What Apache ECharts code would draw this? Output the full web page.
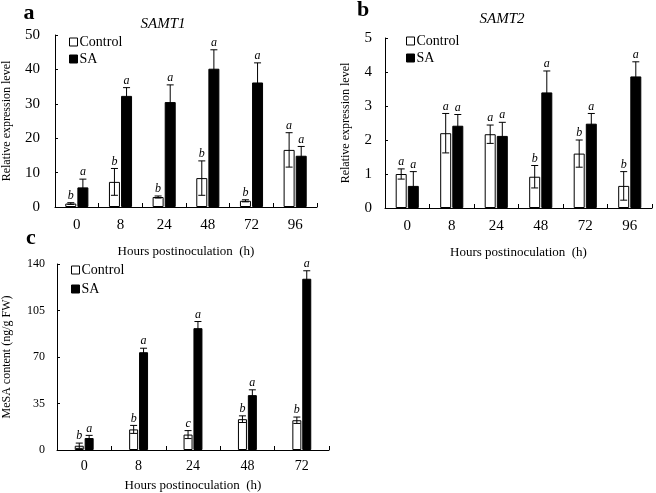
<!DOCTYPE html>
<html><head><meta charset="utf-8">
<script src="https://cdn.jsdelivr.net/npm/echarts@6/dist/echarts.min.js"></script>
<style>html,body{margin:0;padding:0;background:#fff}#c{width:656px;height:493px}</style>
</head><body><div id="c"></div>
<script>
// ---- data ----
const catsAB = ['0', '8', '24', '48', '72', '96'];
const catsC = ['0', '8', '24', '48', '72'];

const aControl = [1.0, 7.3, 2.9, 8.4, 1.8, 16.6];
const aControlErr = [0.25, 3.9, 0.3, 5.0, 0.3, 5.0];
const aSA = [5.7, 32.3, 30.5, 40.2, 36.2, 14.9];
const aSAErr = [2.4, 2.4, 5.0, 5.5, 5.7, 2.7];
const aControlSig = ['b', 'b', 'b', 'b', 'b', 'a'];
const aSASig = ['a', 'a', 'a', 'a', 'a', 'a'];

const bControl = [1.0, 2.2, 2.17, 0.92, 1.6, 0.65];
const bControlErr = [0.15, 0.58, 0.27, 0.33, 0.4, 0.42];
const bSA = [0.65, 2.42, 2.12, 3.4, 2.48, 3.87];
const bSAErr = [0.42, 0.33, 0.4, 0.63, 0.3, 0.43];
const bControlSig = ['a', 'a', 'a', 'b', 'b', 'b'];
const bSASig = ['a', 'a', 'a', 'a', 'a', 'a'];

const cControl = [3.2, 15.5, 11.6, 23.2, 22.4];
const cControlErr = [2, 3, 3, 2.5, 2.4];
const cSA = [9.0, 73.6, 91.7, 41.3, 128.9];
const cSAErr = [2, 3, 5, 4, 6];
const cControlSig = ['b', 'b', 'c', 'b', 'b'];
const cSASig = ['a', 'a', 'a', 'a', 'a'];

const yTicksA = {min: 0, max: 50, interval: 10};
const yTicksB = {min: 0, max: 5, interval: 1};
const yTicksC = {min: 0, max: 140, interval: 35};

// ---- styling ----
const SERIF = '"Liberation Serif", "DejaVu Serif", serif';
const GAP = 0.1;

function xAxis(gi, cats, fs, nameGap, lblMargin) {
  return {
    type: 'category', gridIndex: gi, data: cats, boundaryGap: true,
    name: 'Hours postinoculation  (h)', nameLocation: 'middle', nameGap: nameGap,
    nameTextStyle: {fontFamily: SERIF, fontSize: 13, color: '#000'},
    axisLine: {lineStyle: {color: '#000', width: 1}},
    axisTick: {show: true, inside: true, length: 4, lineStyle: {color: '#000'}},
    axisLabel: {fontFamily: SERIF, fontSize: fs, color: '#000', margin: lblMargin},
    splitLine: {show: false}
  };
}
function yAxis(gi, t, name, nameGap, fs, lblMargin) {
  return {
    type: 'value', gridIndex: gi, min: t.min, max: t.max, interval: t.interval,
    name: name, nameLocation: 'middle', nameGap: nameGap, nameRotate: 90,
    nameTextStyle: {fontFamily: SERIF, fontSize: 12, color: '#000'},
    axisLine: {show: true, lineStyle: {color: '#000', width: 1}},
    axisTick: {show: true, inside: true, length: 3, lineStyle: {color: '#000'}},
    axisLabel: {fontFamily: SERIF, fontSize: fs, color: '#000', margin: lblMargin},
    splitLine: {show: false}
  };
}
function bars(gi, ctrl, sa, bw) {
  return [
    {name: 'Control', type: 'bar', xAxisIndex: gi, yAxisIndex: gi, data: ctrl, barWidth: bw, barGap: (GAP * 100) + '%',
     itemStyle: {color: '#fff', borderColor: '#000', borderWidth: 1}, silent: true},
    {name: 'SA', type: 'bar', xAxisIndex: gi, yAxisIndex: gi, data: sa, barWidth: bw, barGap: (GAP * 100) + '%',
     itemStyle: {color: '#000', borderColor: '#000', borderWidth: 1}, silent: true}
  ];
}
function errs(gi, vals, es, sigs, side, bw) {
  const off = side * bw * (1 + GAP) / 2;
  const cap = 3.5;
  return {
    type: 'custom', name: 'err' + gi + side, xAxisIndex: gi, yAxisIndex: gi, z: 5, silent: true,
    data: vals.map((v, i) => [i, v, es[i]]),
    renderItem: function (params, api) {
      const i = api.value(0), v = api.value(1), e = api.value(2);
      const top = api.coord([i, v + e]);
      const bot = api.coord([i, Math.max(v - e, 0)]);
      const x = top[0] + off;
      const ls = {stroke: '#000', lineWidth: 1};
      return {type: 'group', children: [
        {type: 'line', shape: {x1: x, y1: top[1], x2: x, y2: bot[1]}, style: ls},
        {type: 'line', shape: {x1: x - cap, y1: top[1], x2: x + cap, y2: top[1]}, style: ls},
        {type: 'line', shape: {x1: x - cap, y1: bot[1], x2: x + cap, y2: bot[1]}, style: ls},
        {type: 'text', x: x, y: top[1] - 1, style: {text: sigs[params.dataIndex], textAlign: 'center', textVerticalAlign: 'bottom',
          font: 'italic 12px ' + SERIF, fill: '#000'}}
      ]};
    }
  };
}
function legend(left, top, gap) {
  return {data: ['Control', 'SA'], orient: 'vertical', left: left, top: top, itemWidth: 8, itemHeight: 8, itemGap: gap,
    padding: 0, selectedMode: false, icon: 'rect',
    itemStyle: {borderWidth: 1},
    textStyle: {fontFamily: SERIF, fontSize: 14, color: '#000', lineHeight: 14, padding: [0, 0, 0, -3]}};
}
function txt(s, x, y, font) {
  return {type: 'text', x: x, y: y, style: {text: s, font: font, fill: '#000', textAlign: 'center', textVerticalAlign: 'middle'}};
}

const BW_AB = 11, BW_C = 9;
const option = {
  animation: false,
  backgroundColor: '#fff',
  grid: [
    {left: 50, top: 35, width: 267, height: 172},
    {left: 385, top: 38, width: 267, height: 170},
    {left: 52, top: 264, width: 277, height: 194}
  ],
  xAxis: [xAxis(0, catsAB, 15, 38, 11), xAxis(1, catsAB, 15, 38, 11), xAxis(2, catsC, 14, 29, 9)],
  yAxis: [
    yAxis(0, yTicksA, 'Relative expression level', 42, 15, 15),
    yAxis(1, yTicksB, 'Relative expression level', 33, 15, 13),
    yAxis(2, yTicksC, 'MeSA content (ng/g FW)', 44, 12, 12)
  ],
  legend: [legend(69, 35, 3), legend(406, 34, 3), legend(71, 263, 5)],
  series: [].concat(
    bars(0, aControl, aSA, BW_AB),
    bars(1, bControl, bSA, BW_AB),
    bars(2, cControl, cSA, BW_C),
    [errs(0, aControl, aControlErr, aControlSig, -1, BW_AB), errs(0, aSA, aSAErr, aSASig, 1, BW_AB),
     errs(1, bControl, bControlErr, bControlSig, -1, BW_AB), errs(1, bSA, bSAErr, bSASig, 1, BW_AB),
     errs(2, cControl, cControlErr, cControlSig, -1, BW_C), errs(2, cSA, cSAErr, cSASig, 1, BW_C)]
  ),
  graphic: [
    txt('a', 29, 13, 'bold 22px ' + SERIF),
    txt('b', 363, 10, 'bold 22px ' + SERIF),
    txt('c', 31, 238, 'bold 22px ' + SERIF),
    txt('SAMT1', 163, 24, 'italic 15px ' + SERIF),
    txt('SAMT2', 502, 19, 'italic 15px ' + SERIF)
  ]
};
echarts.init(document.getElementById('c'), null, {renderer: 'canvas'}).setOption(option);
</script></body></html>
